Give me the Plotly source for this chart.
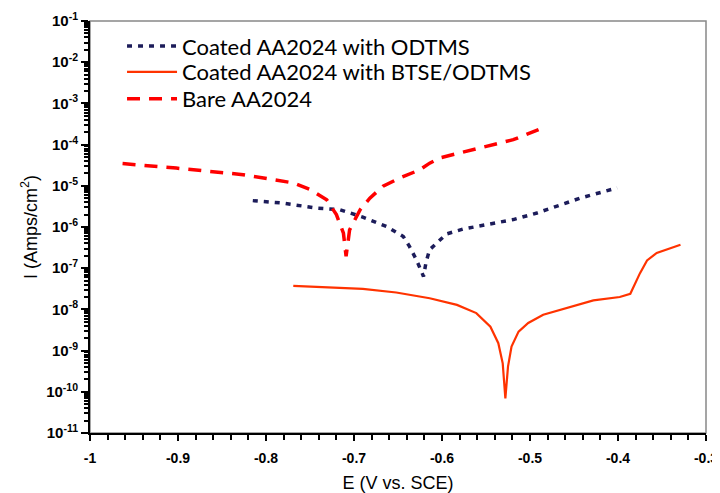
import plotly.graph_objects as go

# Coated AA2024 with ODTMS
odtms_E = [-0.815, -0.781, -0.743, -0.716, -0.690, -0.663, -0.644, -0.637, -0.629, -0.621,
           -0.618, -0.614, -0.606, -0.595, -0.576, -0.553, -0.519, -0.492, -0.462, -0.443, -0.401]
odtms_logI = [-5.36, -5.42, -5.54, -5.58, -5.76, -5.99, -6.23, -6.47, -6.80, -7.20,
              -6.84, -6.55, -6.39, -6.17, -6.05, -5.96, -5.82, -5.66, -5.44, -5.30, -5.05]

# Coated AA2024 with BTSE/ODTMS
btse_E = [-0.769, -0.728, -0.690, -0.652, -0.614, -0.583, -0.561, -0.545, -0.536, -0.531,
          -0.528, -0.525, -0.521, -0.513, -0.502, -0.485, -0.454, -0.428, -0.398, -0.386,
          -0.375, -0.367, -0.356, -0.341, -0.329]
btse_logI = [-7.43, -7.46, -7.50, -7.59, -7.73, -7.89, -8.09, -8.42, -8.82, -9.31,
             -10.16, -9.39, -8.90, -8.54, -8.33, -8.13, -7.93, -7.78, -7.70, -7.62,
             -7.12, -6.81, -6.63, -6.51, -6.43]

# Bare AA2024
bare_E = [-0.963, -0.932, -0.902, -0.864, -0.826, -0.792, -0.769, -0.750, -0.731, -0.720,
          -0.712, -0.709, -0.705, -0.693, -0.682, -0.667, -0.648, -0.625, -0.614, -0.602,
          -0.557, -0.519, -0.481]
bare_logI = [-4.46, -4.51, -4.57, -4.65, -4.73, -4.85, -4.93, -5.09, -5.34, -5.70,
             -6.15, -6.71, -6.07, -5.58, -5.30, -5.01, -4.81, -4.61, -4.45, -4.32,
             -4.08, -3.88, -3.56]

x_tickvals = [-1, -0.9, -0.8, -0.7, -0.6, -0.5, -0.4, -0.3]
x_ticktext = ["-1", "-0.9", "-0.8", "-0.7", "-0.6", "-0.5", "-0.4", "-0.3"]
y_exponents = [-11, -10, -9, -8, -7, -6, -5, -4, -3, -2, -1]

def to_I(vals):
    return [10 ** v for v in vals]

x_minor = [round(-1 + 0.02 * i, 2) for i in range(36)]
y_minor = [m * 10 ** e for e in y_exponents[:-1] for m in range(2, 10)]

fig = go.Figure()
fig.add_trace(go.Scatter(x=odtms_E, y=to_I(odtms_logI), mode="lines",
                         name="Coated AA2024 with ODTMS", legend="legend",
                         line=dict(color="#1c1c5a", width=3.5, dash="5px,6px")))
fig.add_trace(go.Scatter(x=btse_E, y=to_I(btse_logI), mode="lines",
                         name="Coated AA2024 with BTSE/ODTMS", legend="legend2",
                         line=dict(color="#ff3300", width=2.2)))
fig.add_trace(go.Scatter(x=bare_E, y=to_I(bare_logI), mode="lines",
                         name="Bare AA2024", legend="legend3",
                         line=dict(color="#ff0000", width=3.5, dash="13px,9px")))

legfont = dict(family="Lato", size=22, color="black")
def leg(yc):
    return dict(x=0.052, y=yc, xanchor="left", yanchor="middle", font=legfont,
                bgcolor="rgba(0,0,0,0)", itemwidth=50)

tickfont = dict(family="Arial", size=14, color="black", weight="bold")

fig.update_layout(
    width=712, height=485,
    margin=dict(l=82, r=14, t=13, b=60, autoexpand=False),
    paper_bgcolor="white", plot_bgcolor="white",
    showlegend=True,
    legend=leg(0.939), legend2=leg(0.876), legend3=leg(0.811),
    xaxis=dict(range=[-1, -0.3], tickmode="array", tickvals=x_tickvals, ticktext=x_ticktext,
               automargin=False, ticklabelstandoff=5,
               ticks="outside", ticklen=6, tickwidth=2, tickcolor="black",
               showline=True, linecolor="black", linewidth=2,
               showgrid=False, zeroline=False, tickfont=tickfont,
               minor=dict(tickmode="array", tickvals=x_minor, ticks="outside", ticklen=5,
                          tickwidth=2, tickcolor="black", showgrid=False),
               title=dict(text="E (V vs. SCE)", standoff=12,
                          font=dict(family="Arial", size=18, color="black"))),
    yaxis=dict(type="log", range=[-11, -1], tickmode="array", automargin=False,
               tickvals=[10 ** e for e in y_exponents],
               ticktext=["10<sup>%d</sup>" % e for e in y_exponents],
               ticks="outside", ticklen=7, tickwidth=2, tickcolor="black",
               showline=True, linecolor="black", linewidth=2,
               showgrid=False, zeroline=False,
               tickfont=dict(family="Arial", size=15, color="black", weight="bold"),
               minor=dict(tickmode="array", tickvals=y_minor, ticks="outside", ticklen=4,
                          tickwidth=1.5, tickcolor="black", showgrid=False),
               title=dict(text="I (Amps/cm<sup>2</sup>)", standoff=4,
                          font=dict(family="Arial", size=18, color="black"))),
    shapes=[dict(type="rect", xref="paper", yref="paper", x0=0, y0=0, x1=1, y1=1,
                 line=dict(color="#888888", width=1.5), layer="below")],
)

fig.write_html("out.html")
